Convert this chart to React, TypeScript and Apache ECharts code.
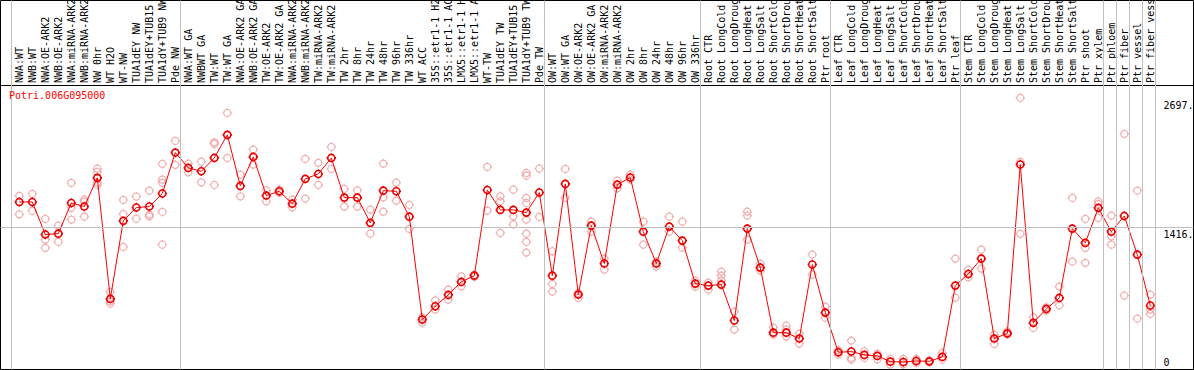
import React, { useEffect, useRef } from "react";
import * as echarts from "echarts";

const TITLE = "Potri.006G095000";

const CATEGORIES = [
  "NWA:WT", "NWB:WT", "NWA:OE-ARK2", "NWB:OE-ARK2", "NWA:miRNA-ARK2", "NWB:miRNA-ARK2", "NW 0hr", "WT H2O", "WT-NW", "TUA1dEY NW", "TUA1dEY+TUB15 NW", "TUA1dY+TUB9 NW", "Pde NW",
  "NWA:WT GA", "NWBWT GA", "TW:WT", "TW:WT GA", "NWA:OE-ARK2 GA", "NWB:OE-ARK2 GA", "TW:OE-ARK2", "TW:OE-ARK2 GA", "NWA:miRNA-ARK2", "NWB:miRNA-ARK2", "TW:miRNA-ARK2", "TW:miRNA-ARK2", "TW 2hr", "TW 8hr", "TW 24hr", "TW 48hr", "TW 96hr", "TW 336hr", "WT ACC", "35S::etr1-1 H2O", "35S::etr1-1 ACC", "LMX5::etr1-1 H2O", "LMX5::etr1-1 ACC", "WT-TW", "TUA1dEY TW", "TUA1dEY+TUB15 TW", "TUA1dY+TUB9 TW", "Pde TW",
  "OW:WT", "OW:WT GA", "OW:OE-ARK2", "OW:OE-ARK2 GA", "OW:miRNA-ARK2", "OW:miRNA-ARK2", "OW 2hr", "OW 8hr", "OW 24hr", "OW 48hr", "OW 96hr", "OW 336hr",
  "Root CTR", "Root LongCold", "Root LongDrought", "Root LongHeat", "Root LongSalt", "Root ShortCold", "Root ShortDrought", "Root ShortHeat", "Root ShortSalt", "Ptr root",
  "Leaf CTR", "Leaf LongCold", "Leaf LongDrought", "Leaf LongHeat", "Leaf LongSalt", "Leaf ShortCold", "Leaf ShortDrought", "Leaf ShortHeat", "Leaf ShortSalt", "Ptr leaf",
  "Stem CTR", "Stem LongCold", "Stem LongDrought", "Stem LongHeat", "Stem LongSalt", "Stem ShortCold", "Stem ShortDrought", "Stem ShortHeat", "Stem ShortSalt", "Ptr shoot", "Ptr xylem",
  "Ptr phloem", "Ptr fiber", "Ptr vessel", "Ptr fiber vessel",
];

const MEANS = [
  1664, 1664, 1340, 1349, 1654, 1618, 1903, 701, 1476, 1608, 1618, 1747, 2154,
  2002, 1968, 2101, 2330, 1823, 2111, 1727, 1770, 1647, 1893, 1942, 2101, 1707, 1707, 1456, 1776, 1770, 1518, 496, 628, 741, 870, 932, 1783, 1585, 1585, 1558, 1757,
  932, 1843, 744, 1429, 1052, 1836, 1906, 1369, 1052, 1419, 1280, 853,
  833, 843, 486, 1399, 1012, 366, 366, 307, 1042, 565,
  171, 178, 145, 135, 78, 75, 85, 81, 125, 833,
  949, 1101, 307, 359, 2035, 463, 602, 711, 1399, 1257, 1605,
  1369, 1525, 1141, 635,
];

const REPLICATES = [
  [1724, 1541], [1744, 1575], [1495, 1290, 1208], [1429, 1267], [1853, 1605, 1489], [1687, 1667, 1518], [1995, 1962, 1856, 1833], [771, 677, 654], [1684, 1545, 1217], [1717, 1498], [1776, 1538, 1521], [2042, 1886, 1853, 1565, 1240], [2270, 2032],
  [2045, 1958], [2064, 1859], [2256, 2240, 1833], [2548, 2101], [1935, 1720], [2184, 2035], [1779, 1670], [1786, 1754], [1687, 1611], [2091, 1697], [2052, 1833], [2210, 1992], [1793, 1618], [1779, 1618], [1588, 1349], [2045, 1710, 1568], [1856, 1677], [1634, 1396], [518, 463], [687, 595], [793, 694], [925, 826], [942, 920], [2012, 1578], [1720, 1670, 1356], [1786, 1521, 1442], [1952, 1925, 1704, 1654, 1489, 1349, 1267, 1161], [1995, 1515],
  [1174, 850, 774], [1992, 1704], [761, 711], [1469, 1369], [1101, 992], [1876, 1800], [1935, 1886], [1469, 1240], [1071, 1022], [1518, 1369], [1469, 1210], [883, 823],
  [863, 793], [972, 932, 883], [575, 396], [1568, 1528, 1290], [1052, 982], [416, 347], [436, 396, 327], [356, 257], [1141, 942], [625, 515],
  [191, 148], [287, 115, 98], [181, 115], [158, 101], [105, 49], [105, 52], [105, 66], [91, 71], [165, 98], [1101, 714],
  [992, 916], [1191, 1002], [347, 254], [379, 347], [2697, 2061, 1347], [518, 413], [618, 585], [823, 638], [1704, 1071], [1495, 1208, 1059], [1670, 1644, 1505],
  [1528, 1323, 1240], [2340, 734], [1776, 505], [744, 595, 552],
];

// category boundaries where grey separator lines are drawn
const SEPARATORS = [0, 13, 41, 53, 63, 73, 84, 85, 86, 87, 88];
const GRID_VALUE = 1416;
const Y_LABELS_TOP = [1416, 2697];
const Y_LABELS_BOTTOM = [0];

// layout (pixels)
const W = 1194;
const H = 370;
const STEP = 13;
const FIRST_X = 19.3;
const BAND_LEFT = 11;
const HEADER = 85;
const UNITS_PER_PX = 9.93;

const MARK = "path://M-3.5,0A3.5,3.5,0,1,0,3.5,0A3.5,3.5,0,1,0,-3.5,0Z M0,-3.5L0,-4.7 M0,3.5L0,4.7 M-3.5,0L-4.7,0 M3.5,0L4.7,0";
const FONT = "DejaVu Sans Mono";

export default function App() {
  const ref = useRef<HTMLDivElement>(null);
  useEffect(() => {
    if (!ref.current) return;
    const chart = echarts.init(ref.current, null, { renderer: "svg" });
    const pad = 0.5;
    const xMin = (pad - FIRST_X) / STEP;
    const xMax = (W - pad - FIRST_X) / STEP;
    const yMax = (H - 2 * pad) * UNITS_PER_PX;
    const sepOffset = (FIRST_X - BAND_LEFT) / STEP;

    const repData: number[][] = [];
    REPLICATES.forEach((reps, i) => reps.forEach((v) => repData.push([i, v])));
    const meanData = MEANS.map((v, i) => [i, v]);

    const yAxisBase = {
      type: "value",
      position: "right",
      min: 0,
      max: yMax,
      axisLine: { show: false },
      axisTick: { show: false },
      splitLine: { show: false },
    };

    chart.setOption({
      animation: false,
      title: {
        text: TITLE,
        left: 9,
        top: 90,
        padding: 0,
        textStyle: { color: "#ff0000", fontFamily: FONT, fontSize: 10, fontWeight: "normal" },
      },
      grid: {
        left: pad,
        right: pad,
        top: pad,
        bottom: pad,
        containLabel: false,
        outerBoundsMode: "none",
        show: true,
        borderColor: "#000",
        borderWidth: 1,
        backgroundColor: "#fff",
      },
      xAxis: {
        type: "value",
        position: "top",
        offset: -(HEADER - pad),
        min: xMin,
        max: xMax,
        axisLine: { show: true, onZero: false, lineStyle: { color: "#000", width: 1 } },
        axisTick: { show: false },
        splitLine: { show: false },
        axisLabel: {
          customValues: CATEGORIES.map((_, i) => i),
          formatter: (v: number) => CATEGORIES[Math.round(v)] ?? "",
          rotate: -90,
          align: "left",
          verticalAlign: "middle",
          margin: 2,
          width: 90,
          overflow: "truncate",
          ellipsis: "",
          color: "#000",
          fontFamily: FONT,
          fontSize: 10,
        },
      },
      yAxis: [
        {
          ...yAxisBase,
          axisLabel: {
            customValues: Y_LABELS_TOP,
            formatter: (v: number) => `${v}.`,
            inside: true,
            align: "left",
            verticalAlign: "top",
            margin: 30,
            padding: [3, 0, 0, 0],
            color: "#000",
            fontFamily: FONT,
            fontSize: 10,
          },
        },
        {
          ...yAxisBase,
          axisLabel: {
            customValues: Y_LABELS_BOTTOM,
            formatter: (v: number) => `${v}`,
            inside: true,
            align: "left",
            verticalAlign: "bottom",
            margin: 30,
            padding: [0, 0, 2, 0],
            color: "#000",
            fontFamily: FONT,
            fontSize: 10,
          },
        },
      ],
      series: [
        {
          type: "scatter",
          data: repData,
          symbol: MARK,
          symbolSize: 9.4,
          itemStyle: { color: "transparent", borderColor: "#ef9a9a", borderWidth: 1.2 },
          z: 2,
          silent: true,
          markLine: {
            silent: true,
            symbol: "none",
            label: { show: false },
            lineStyle: { color: "#c0c0c0", type: "solid", width: 1 },
            data: [
              ...SEPARATORS.map((k) => ({ xAxis: k - sepOffset })),
              { yAxis: GRID_VALUE },
            ],
          },
        },
        {
          type: "line",
          data: meanData,
          symbol: MARK,
          symbolSize: 9.4,
          showSymbol: true,
          showAllSymbol: true,
          lineStyle: { color: "#ff0000", width: 1 },
          itemStyle: { color: "transparent", borderColor: "#ee0000", borderWidth: 1.6 },
          z: 3,
          silent: true,
        },
      ],
    });
    return () => chart.dispose();
  }, []);
  return (
    <div
      ref={ref}
      style={{ position: "absolute", left: 0, top: 0, width: W, height: H, overflow: "hidden", background: "#fff" }}
    />
  );
}
